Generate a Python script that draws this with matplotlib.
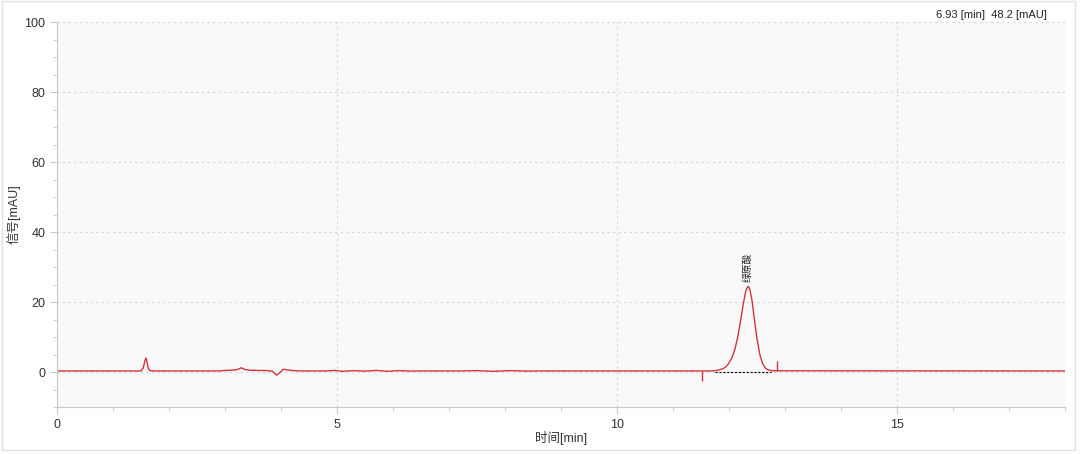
#Chromatogram plot (signal vs. retention time)
import matplotlib.pyplot as plt
from matplotlib.ticker import MultipleLocator

plt.rcParams['font.family'] = ['Liberation Sans', 'Noto Sans CJK SC', 'DejaVu Sans']

#----------trace points-------------------------------------------
time = [0.00, 1.50, 1.54, 1.57, 1.59, 1.61, 1.63, 1.66, 1.72,
        2.90, 3.00, 3.15, 3.22, 3.29, 3.36, 3.45, 3.60, 3.75, 3.85,
        3.92, 3.97, 4.04, 4.12, 4.25, 4.40, 4.80, 4.95, 5.10, 5.30,
        5.50, 5.70, 5.90, 6.10, 6.30, 6.50, 7.20, 7.50, 7.80, 8.10,
        8.40, 8.60, 11.70, 11.80, 11.90, 11.95, 12.00, 12.05, 12.10,
        12.15, 12.20, 12.25, 12.30, 12.34, 12.37, 12.41, 12.45, 12.50,
        12.55, 12.60, 12.65, 12.70, 12.78, 18.00]

signal = [0.30, 0.30, 1.20, 3.30, 4.00, 2.60, 1.00, 0.40, 0.30,
          0.30, 0.45, 0.55, 0.70, 1.20, 0.70, 0.50, 0.45, 0.40, 0.20,
          -0.90, -0.30, 0.80, 0.60, 0.35, 0.30, 0.30, 0.45, 0.20, 0.40,
          0.25, 0.45, 0.20, 0.40, 0.25, 0.30, 0.30, 0.40, 0.20, 0.40,
          0.25, 0.30, 0.30, 0.50, 1.00, 1.60, 2.60, 4.00, 6.20,
          9.50, 14.00, 19.00, 23.20, 24.50, 23.80, 20.50, 15.50, 9.50,
          5.00, 2.40, 1.10, 0.60, 0.35, 0.30]

#--------------------------------------------------
# peak start/end markers and integration baseline
marker_time = [11.52, 12.86]
marker_low = [-2.6, 0.3]
marker_high = [0.3, 3.2]
base_start, base_end = 11.75, 12.75
peak_time = 12.34
peak_height = 24.5
peak_name = '绿原酸'
cursor_text = '6.93 [min]  48.2 [mAU]'

red = '#d4343a'

fig = plt.figure(figsize=(10.8, 4.54), dpi=100)
ax = fig.add_axes([0.0528, 0.1035, 0.9333, 0.848])
ax.set_facecolor('#f9f8fb')

ax.plot(time, signal, color=red, linewidth=1.0)
ax.vlines(marker_time, marker_low, marker_high, color=red, linewidth=1.0)
ax.plot([base_start, base_end], [0, 0], color='black', linestyle=(0, (2, 1.5)), linewidth=0.8)
ax.text(peak_time, peak_height + 1.2, peak_name, rotation=90, ha='center', va='bottom',
        fontsize=7, color='#222222')

ax.set_xlim(0, 18)
ax.set_ylim(-10, 100)
ax.xaxis.set_major_locator(MultipleLocator(5))
ax.xaxis.set_minor_locator(MultipleLocator(1))
ax.yaxis.set_major_locator(MultipleLocator(20))
ax.yaxis.set_minor_locator(MultipleLocator(5))
ax.grid(True, which='major', color='#d4d4d4', linestyle=(0, (2, 3)), linewidth=0.8)

for side in ['top', 'right']:
    ax.spines[side].set_visible(False)
for side in ['left', 'bottom']:
    ax.spines[side].set_color('#c8c8c8')
ax.tick_params(which='major', length=5, color='#c8c8c8', labelsize=9, labelcolor='#333333')
ax.tick_params(which='minor', length=3, color='#c8c8c8')

ax.set_xlabel('时间[min]', fontsize=9, color='#333333', labelpad=0)
ax.set_ylabel('信号[mAU]', fontsize=9, color='#333333')
ax.yaxis.set_label_coords(-0.036, 0.5)

fig.text(0.969, 0.968, cursor_text, ha='right', va='center', fontsize=8, color='#222222')

# thin outer frame like the screenshot
fig.patches.append(plt.Rectangle((0.002, 0.008), 0.993, 0.99, transform=fig.transFigure,
                                 fill=False, edgecolor='#e2e2e2', linewidth=1))

plt.savefig('out.png', dpi=100)
